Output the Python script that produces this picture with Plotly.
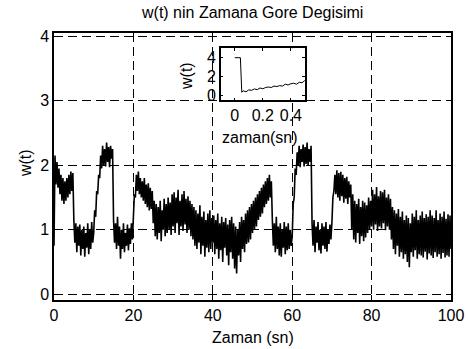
import plotly.graph_objects as go

# ---------------- data ----------------
# main signal sampled every 0.25 s, t = 0 ... 100
w_main = [
    0.75, 2.15, 1.70, 2.05, 1.65, 1.95, 1.55, 1.85, 1.45, 1.80, 1.40, 1.75, 1.45, 1.80, 1.50, 1.85, 1.55, 1.90, 1.60, 1.88,
    1.15, 0.80, 1.10, 0.65, 1.05, 0.75, 1.08, 0.60, 1.00, 0.70, 1.05, 0.58, 0.95, 0.72, 1.10, 0.62, 1.00, 0.70, 1.12, 0.80,
    0.95, 1.30, 1.20, 1.60, 1.55, 1.85, 1.80, 2.15, 1.95, 2.30, 2.00, 2.25, 1.98, 2.35, 2.05, 2.28, 1.97, 2.30, 2.10, 2.25,
    1.15, 0.80, 1.10, 0.70, 1.20, 0.75, 1.05, 0.55, 1.00, 0.70, 1.10, 0.65, 0.95, 0.75, 1.08, 0.68, 1.02, 0.78, 1.10, 0.85,
    1.20, 1.55, 1.50, 1.85, 1.60, 1.90, 1.55, 1.80, 1.50, 1.75, 1.45, 1.80, 1.40, 1.70, 1.35, 1.72, 1.30, 1.65, 1.32, 1.60,
    1.10, 1.45, 0.90, 1.40, 0.85, 1.35, 0.95, 1.45, 0.82, 1.30, 1.00, 1.48, 0.90, 1.40, 0.95, 1.50, 1.00, 1.42, 0.92, 1.55,
    1.05, 1.58, 0.95, 1.50, 1.10, 1.62, 0.92, 1.45, 1.05, 1.55, 0.98, 1.60, 1.08, 1.48, 0.95, 1.52, 1.00, 1.45, 0.90, 1.40,
    0.85, 1.35, 0.75, 1.30, 0.70, 1.25, 0.80, 1.38, 0.62, 1.20, 0.75, 1.28, 0.58, 1.15, 0.72, 1.25, 0.65, 1.30, 0.70, 1.18,
    0.80, 1.22, 0.62, 1.15, 0.70, 1.25, 0.55, 1.10, 0.68, 1.20, 0.50, 1.12, 0.72, 1.18, 0.60, 1.08, 0.45, 1.15, 0.65, 1.20,
    0.55, 1.10, 0.40, 1.05, 0.32, 1.00, 0.60, 1.12, 0.50, 1.20, 0.70, 1.15, 0.65, 1.25, 0.78, 1.30, 0.80, 1.35, 0.85, 1.40,
    0.95, 1.45, 1.00, 1.50, 1.05, 1.55, 1.15, 1.60, 1.20, 1.65, 1.25, 1.70, 1.35, 1.75, 1.40, 1.80, 1.45, 1.85, 1.50, 1.75,
    1.15, 0.75, 1.10, 0.65, 1.20, 0.70, 1.05, 0.60, 1.10, 0.58, 1.00, 0.72, 1.12, 0.62, 1.05, 0.68, 1.10, 0.70, 1.00, 0.75,
    0.90, 1.40, 1.50, 1.95, 1.85, 2.20, 2.00, 2.30, 1.97, 2.25, 2.05, 2.32, 1.98, 2.28, 2.02, 2.35, 2.00, 2.25, 2.05, 2.30,
    1.10, 0.75, 1.15, 0.65, 1.05, 0.80, 1.12, 0.68, 1.00, 0.63, 1.10, 0.75, 1.05, 0.70, 1.12, 0.66, 1.00, 0.78, 1.08, 0.85,
    1.10, 1.50, 1.60, 1.85, 1.55, 1.92, 1.50, 1.88, 1.45, 1.90, 1.52, 1.85, 1.42, 1.80, 1.48, 1.82, 1.40, 1.75, 1.50, 1.70,
    1.00, 1.55, 0.85, 1.45, 0.80, 1.40, 0.95, 1.48, 0.78, 1.35, 0.90, 1.45, 0.82, 1.42, 0.88, 1.38, 0.95, 1.50, 1.00, 1.45,
    1.05, 1.62, 1.00, 1.55, 1.08, 1.66, 0.98, 1.52, 1.05, 1.60, 1.02, 1.58, 1.10, 1.62, 0.99, 1.50, 1.05, 1.55, 1.00, 1.48,
    0.85, 1.35, 0.70, 1.30, 0.62, 1.25, 0.75, 1.32, 0.58, 1.20, 0.65, 1.28, 0.55, 1.15, 0.62, 1.22, 0.50, 1.18, 0.42, 1.10,
    0.65, 1.25, 0.58, 1.20, 0.68, 1.30, 0.55, 1.15, 0.62, 1.22, 0.60, 1.28, 0.57, 1.18, 0.66, 1.24, 0.54, 1.20, 0.63, 1.30,
    0.60, 1.22, 0.56, 1.18, 0.65, 1.30, 0.58, 1.15, 0.62, 1.25, 0.55, 1.20, 0.64, 1.28, 0.57, 1.17, 0.60, 1.24, 0.58, 1.22,
    0.70,
]
t_step = 0.25
t_main = [i * t_step for i in range(len(w_main))]

# inset: first half second
t_inset = [0, 0.04, 0.05, 0.06, 0.08, 0.10, 0.12, 0.14, 0.16, 0.18, 0.20, 0.22, 0.24,
           0.26, 0.28, 0.30, 0.32, 0.34, 0.36, 0.38, 0.40, 0.42, 0.44, 0.46, 0.48, 0.50]
w_inset = [4.0, 4.0, 0.35, 0.50, 0.40, 0.60, 0.55, 0.70, 0.62, 0.80, 0.72, 0.85, 0.90,
           0.85, 1.00, 0.95, 1.05, 1.00, 1.20, 1.12, 1.25, 1.30, 1.20, 1.40, 1.35, 1.60]

main_xticks = [0, 20, 40, 60, 80, 100]
main_yticks = [0, 1, 2, 3, 4]
inset_xticks = [0, 0.2, 0.4]
inset_yticks = [0, 2, 4]

title_text = "w(t) nin Zamana Gore Degisimi"
xlabel = "Zaman (sn)"
ylabel = "w(t)"
inset_xlabel = "zaman(sn)"
inset_ylabel = "w(t)"

# ---------------- figure ----------------
FONT = "Liberation Sans, Arial, Helvetica, sans-serif"
FS = 16
fig = go.Figure()
fig.add_trace(go.Scatter(x=t_main, y=w_main, mode="lines",
                         line=dict(color="black", width=1.6, simplify=False),
                         xaxis="x", yaxis="y", showlegend=False))
fig.add_trace(go.Scatter(x=t_inset, y=w_inset, mode="lines",
                         line=dict(color="black", width=1, simplify=False),
                         xaxis="x2", yaxis="y2", showlegend=False))

axis_common = dict(showline=True, linecolor="black", linewidth=1.5, mirror="ticks",
                   ticks="inside", tickcolor="black", zeroline=False, automargin=False,
                   tickfont=dict(family=FONT, size=FS, color="black"))

fig.update_layout(
    width=468, height=349,
    margin=dict(l=54, r=17, t=33, b=49),
    paper_bgcolor="white", plot_bgcolor="white",
    font=dict(family=FONT, size=FS, color="black"),
    title=dict(text=title_text, x=0.54, xanchor="center", y=0.965, yanchor="middle",
               font=dict(family=FONT, size=FS, color="black")),
    xaxis=dict(domain=[0, 1], range=[0, 100], tickvals=main_xticks, ticklen=5,
               showgrid=True, gridcolor="black", gridwidth=1, griddash="9px,5px",
               anchor="y", **axis_common),
    yaxis=dict(domain=[0, 1], range=[-0.09, 4.05], tickvals=main_yticks, ticklen=5,
               showgrid=True, gridcolor="black", gridwidth=1, griddash="9px,5px",
               anchor="x", **axis_common),
    xaxis2=dict(domain=[0.42, 0.632], range=[-0.1, 0.5], tickvals=inset_xticks,
                ticktext=["0", "0.2", "0.4"], ticklen=3, showgrid=False, anchor="y2",
                **axis_common),
    yaxis2=dict(domain=[0.748, 0.943], range=[-0.5, 5], tickvals=inset_yticks,
                ticklen=3, showgrid=False, anchor="x2", **axis_common),
    annotations=[
        dict(text=xlabel, x=0.5, y=-0.1386, xref="paper", yref="paper",
             xanchor="center", yanchor="middle", showarrow=False,
             font=dict(family=FONT, size=FS, color="black")),
        dict(text=ylabel, x=-0.073, y=0.513, xref="paper", yref="paper", textangle=-90,
             xanchor="center", yanchor="middle", showarrow=False,
             font=dict(family=FONT, size=FS, color="black")),
        dict(text=inset_xlabel, x=0.518, y=0.610, xref="paper", yref="paper",
             xanchor="center", yanchor="middle", showarrow=False,
             font=dict(family=FONT, size=FS, color="black")),
        dict(text=inset_ylabel, x=0.335, y=0.839, xref="paper", yref="paper", textangle=-90,
             xanchor="center", yanchor="middle", showarrow=False,
             font=dict(family=FONT, size=FS, color="black")),
    ],
)

fig.write_html("out.html")
